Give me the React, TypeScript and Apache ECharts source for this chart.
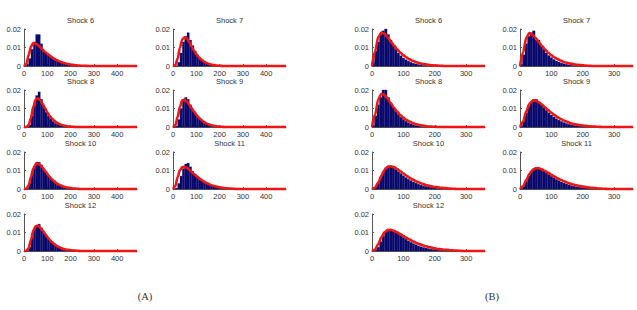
import React, { useEffect, useRef } from "react";
import * as echarts from "echarts";

// Shock numbers shown in each panel (same set in A and B)
const shocks = [6, 7, 8, 9, 10, 11, 12];

// Histogram bin widths and x-axis extents for the two panels
const binWidthA = 10;
const binWidthB = 8;
const xMaxA = 485;
const xMaxB = 360;
// Fitted density curves are sampled every curveStep units from 0
const curveStep = 10;

// ---- Panel A: histogram heights (bins start at 0) ----
const histA6 = [0, 0.001, 0.004, 0.009, 0.013, 0.017, 0.017, 0.012, 0.008, 0.007, 0.006, 0.005, 0.004, 0.0035, 0.003, 0.0025, 0.002, 0.0015, 0.001, 0.0008, 0.0005, 0.0003, 0.0002];
const histA7 = [0, 0, 0.002, 0.007, 0.013, 0.016, 0.018, 0.014, 0.011, 0.008, 0.006, 0.0045, 0.0035, 0.0025, 0.0018, 0.0012, 0.0008, 0.0004, 0.0002];
const histA8 = [0, 0, 0.001, 0.006, 0.012, 0.017, 0.019, 0.015, 0.011, 0.008, 0.006, 0.0045, 0.003, 0.002, 0.0015, 0.001, 0.0006, 0.0003];
const histA9 = [0, 0.0005, 0.004, 0.01, 0.014, 0.016, 0.015, 0.012, 0.0095, 0.0075, 0.0058, 0.0043, 0.0032, 0.0023, 0.0016, 0.001, 0.0006, 0.0003];
const histA10 = [0, 0.0003, 0.003, 0.008, 0.012, 0.0145, 0.0145, 0.013, 0.011, 0.009, 0.0072, 0.0057, 0.0045, 0.0035, 0.0026, 0.0019, 0.0013, 0.0009, 0.0006, 0.0003];
const histA11 = [0, 0.0005, 0.003, 0.007, 0.011, 0.0135, 0.014, 0.012, 0.0095, 0.008, 0.0068, 0.0056, 0.0046, 0.0037, 0.003, 0.0024, 0.0018, 0.0014, 0.001, 0.0007, 0.0005, 0.0003, 0.0002];
const histA12 = [0, 0, 0.002, 0.007, 0.012, 0.014, 0.0145, 0.0125, 0.0105, 0.0085, 0.0068, 0.0053, 0.0041, 0.0031, 0.0023, 0.0017, 0.0012, 0.0008, 0.0005, 0.0003];

// ---- Panel A: fitted densities ----
const fitA6 = [0, 0.001, 0.006, 0.0105, 0.0124, 0.0122, 0.0113, 0.0101, 0.0089, 0.0077, 0.0066, 0.0056, 0.0047, 0.0039, 0.0032, 0.0026, 0.0021, 0.0017, 0.0013, 0.001, 0.0008, 0.0006, 0.0004, 0.0003, 0.0002, 0.00015, 0.0001, 0.00005, 0];
const fitA7 = [0, 0.0005, 0.004, 0.01, 0.0145, 0.0155, 0.0148, 0.0128, 0.0105, 0.0083, 0.0064, 0.0048, 0.0036, 0.0026, 0.0019, 0.0013, 0.0009, 0.0006, 0.0004, 0.0002, 0.0001, 0.00005, 0];
const fitA8 = [0, 0, 0.001, 0.005, 0.011, 0.0148, 0.0155, 0.0145, 0.0125, 0.0102, 0.008, 0.0061, 0.0046, 0.0034, 0.0024, 0.0017, 0.0012, 0.0008, 0.0005, 0.0003, 0.0002, 0.0001, 0];
const fitA9 = [0, 0.001, 0.0055, 0.011, 0.0145, 0.0148, 0.0138, 0.012, 0.0101, 0.0083, 0.0066, 0.0052, 0.004, 0.003, 0.0022, 0.0016, 0.0011, 0.0008, 0.0005, 0.0003, 0.0002, 0.0001, 0];
const fitA10 = [0, 0.0002, 0.002, 0.0065, 0.011, 0.0133, 0.0138, 0.013, 0.0115, 0.0098, 0.0081, 0.0066, 0.0052, 0.0041, 0.0031, 0.0024, 0.0018, 0.0013, 0.0009, 0.0007, 0.0005, 0.0003, 0.0002, 0.0001, 0];
const fitA11 = [0, 0.0015, 0.0065, 0.0102, 0.0118, 0.012, 0.0114, 0.0104, 0.0093, 0.0081, 0.007, 0.006, 0.0051, 0.0042, 0.0035, 0.0029, 0.0023, 0.0019, 0.0015, 0.0012, 0.0009, 0.0007, 0.0005, 0.0004, 0.0003, 0.0002, 0.0001, 0];
const fitA12 = [0, 0, 0.0015, 0.006, 0.011, 0.0134, 0.0136, 0.0126, 0.011, 0.0093, 0.0076, 0.0061, 0.0048, 0.0037, 0.0028, 0.0021, 0.0016, 0.0011, 0.0008, 0.0006, 0.0004, 0.0003, 0.0002, 0.0001, 0];

// ---- Panel B: histogram heights (bins start at 0) ----
const histB6 = [0.002, 0.008, 0.013, 0.017, 0.019, 0.02, 0.017, 0.014, 0.011, 0.009, 0.007, 0.0055, 0.0043, 0.0034, 0.0026, 0.002, 0.0015, 0.0011, 0.0008, 0.0005, 0.0003, 0.0002];
const histB7 = [0.001, 0.006, 0.012, 0.016, 0.018, 0.019, 0.014, 0.014, 0.011, 0.009, 0.007, 0.0056, 0.0045, 0.0035, 0.0027, 0.0021, 0.0016, 0.0012, 0.0009, 0.0006, 0.0004, 0.0002];
const histB8 = [0.001, 0.006, 0.012, 0.016, 0.02, 0.02, 0.016, 0.013, 0.0105, 0.0085, 0.0068, 0.0053, 0.0041, 0.0031, 0.0023, 0.0017, 0.0012, 0.0008, 0.0005, 0.0003];
const histB9 = [0.0005, 0.003, 0.0075, 0.011, 0.0135, 0.015, 0.015, 0.0135, 0.012, 0.0105, 0.009, 0.0077, 0.0065, 0.0054, 0.0045, 0.0037, 0.003, 0.0024, 0.0019, 0.0015, 0.0012, 0.0009, 0.0007, 0.0005, 0.0004, 0.0003];
const histB10 = [0.0002, 0.001, 0.003, 0.006, 0.009, 0.0115, 0.0125, 0.0122, 0.0115, 0.0105, 0.0094, 0.0083, 0.0072, 0.0062, 0.0053, 0.0045, 0.0038, 0.0032, 0.0026, 0.0021, 0.0017, 0.0014, 0.0011, 0.0009, 0.0007, 0.0005, 0.0004, 0.0003];
const histB11 = [0.0003, 0.0015, 0.004, 0.007, 0.0095, 0.011, 0.0115, 0.0112, 0.0106, 0.0097, 0.0088, 0.0078, 0.0069, 0.006, 0.0052, 0.0045, 0.0038, 0.0032, 0.0027, 0.0022, 0.0018, 0.0015, 0.0012, 0.001, 0.0008, 0.0006, 0.0005, 0.0004, 0.0003];
const histB12 = [0, 0.0005, 0.002, 0.005, 0.008, 0.0105, 0.0115, 0.0115, 0.011, 0.0102, 0.0093, 0.0083, 0.0073, 0.0064, 0.0055, 0.0047, 0.004, 0.0034, 0.0028, 0.0023, 0.0019, 0.0016, 0.0013, 0.001, 0.0008, 0.0006, 0.0005, 0.0004, 0.0003, 0.0002];

// ---- Panel B: fitted densities ----
const fitB6 = [0, 0.008, 0.0157, 0.0181, 0.0174, 0.0155, 0.0132, 0.011, 0.009, 0.0073, 0.0058, 0.0046, 0.0036, 0.0028, 0.0021, 0.0016, 0.0012, 0.0009, 0.0006, 0.0004, 0.0003, 0.0002, 0.0001, 0];
const fitB7 = [0, 0.0075, 0.0153, 0.0178, 0.0169, 0.0151, 0.0129, 0.0108, 0.0089, 0.0072, 0.0058, 0.0046, 0.0037, 0.0029, 0.0022, 0.0017, 0.0013, 0.001, 0.0007, 0.0005, 0.0004, 0.0002, 0.0001, 0];
const fitB8 = [0, 0.0068, 0.015, 0.018, 0.0174, 0.0153, 0.0128, 0.0104, 0.0083, 0.0065, 0.005, 0.0038, 0.0029, 0.0021, 0.0015, 0.0011, 0.0008, 0.0005, 0.0003, 0.0002, 0.0001, 0];
const fitB9 = [0, 0.003, 0.0085, 0.0125, 0.0142, 0.0143, 0.0134, 0.0121, 0.0106, 0.0091, 0.0077, 0.0064, 0.0053, 0.0043, 0.0035, 0.0028, 0.0022, 0.0017, 0.0013, 0.001, 0.0008, 0.0006, 0.0004, 0.0003, 0.0002, 0.0001, 0];
const fitB10 = [0, 0.0008, 0.0035, 0.0072, 0.0103, 0.012, 0.0123, 0.0118, 0.0108, 0.0096, 0.0084, 0.0072, 0.0061, 0.0051, 0.0042, 0.0035, 0.0028, 0.0023, 0.0018, 0.0014, 0.0011, 0.0009, 0.0007, 0.0005, 0.0004, 0.0002, 0.0001, 0];
const fitB11 = [0, 0.0015, 0.0048, 0.0081, 0.0103, 0.0112, 0.0112, 0.0106, 0.0097, 0.0087, 0.0077, 0.0067, 0.0058, 0.005, 0.0042, 0.0035, 0.0029, 0.0024, 0.002, 0.0016, 0.0013, 0.001, 0.0008, 0.0006, 0.0005, 0.0003, 0.0002, 0.0001, 0];
const fitB12 = [0, 0.0008, 0.0038, 0.0074, 0.0101, 0.0113, 0.0114, 0.0109, 0.0101, 0.0091, 0.0081, 0.0071, 0.0062, 0.0053, 0.0045, 0.0038, 0.0032, 0.0026, 0.0022, 0.0018, 0.0014, 0.0011, 0.0009, 0.0007, 0.0006, 0.0004, 0.0003, 0.0002, 0.0001, 0];

const histsA = [histA6, histA7, histA8, histA9, histA10, histA11, histA12];
const fitsA = [fitA6, fitA7, fitA8, fitA9, fitA10, fitA11, fitA12];
const histsB = [histB6, histB7, histB8, histB9, histB10, histB11, histB12];
const fitsB = [fitB6, fitB7, fitB8, fitB9, fitB10, fitB11, fitB12];

const yMax = 0.02;
const yStep = 0.01;
const xStep = 100;

const FONT = "'Liberation Sans', Arial, sans-serif";
const BAR_FILL = "#09096a";
const BAR_EDGE = "#16167a";
const FIT_RED = "#f01414";

// subplot layout (pixels)
const plotW = 113;
const plotH = 37;
const rowTops = [29, 90, 152, 214];
const panels = [
  { colLefts: [24, 173], xMax: xMaxA, bin: binWidthA, hists: histsA, fits: fitsA, label: "(A)", labelX: 145 },
  { colLefts: [372, 520], xMax: xMaxB, bin: binWidthB, hists: histsB, fits: fitsB, label: "(B)", labelX: 492 },
];

function buildOption() {
  const grid: any[] = [];
  const xAxis: any[] = [];
  const yAxis: any[] = [];
  const series: any[] = [];
  const title: any[] = [];

  panels.forEach((p) => {
    shocks.forEach((shock, k) => {
      const row = Math.floor(k / 2);
      const col = k % 2;
      const left = p.colLefts[col];
      const top = rowTops[row];
      const gi = grid.length;
      grid.push({ left, top, width: plotW, height: plotH, containLabel: false });

      const axisLine = { show: true, lineStyle: { color: "#555", width: 1 } };
      const axisTick = { show: true, inside: true, length: 2, lineStyle: { color: "#555" } };
      xAxis.push({
        gridIndex: gi,
        type: "value",
        min: 0,
        max: p.xMax,
        interval: xStep,
        axisLine,
        axisTick,
        splitLine: { show: false },
        axisLabel: {
          fontSize: 7.5,
          fontFamily: FONT,
          color: "#333",
          margin: 3,
          showMaxLabel: false,
          formatter: (v: number) => (v % xStep === 0 ? String(v) : ""),
        },
      });
      yAxis.push({
        gridIndex: gi,
        type: "value",
        min: 0,
        max: yMax,
        interval: yStep,
        axisLine,
        axisTick,
        splitLine: { show: false },
        axisLabel: { fontSize: 7.5, fontFamily: FONT, color: "#333", margin: 3 },
      });

      // histogram bars: [bin start, height]
      const bw = p.bin;
      series.push({
        type: "custom",
        xAxisIndex: gi,
        yAxisIndex: gi,
        z: 2,
        data: p.hists[k].map((h, i) => [i * bw, h]),
        renderItem: (params: any, api: any) => {
          const x0 = api.value(0);
          const h = api.value(1);
          const a = api.coord([x0, h]);
          const b = api.coord([x0 + bw, 0]);
          return {
            type: "rect",
            shape: { x: a[0], y: a[1], width: b[0] - a[0], height: b[1] - a[1] },
            style: { fill: BAR_FILL, stroke: BAR_EDGE, lineWidth: 0.3 },
          };
        },
      });

      // fitted density, continued flat to the axis end
      const fit = p.fits[k];
      const pts = fit.map((v, i) => [i * curveStep, v]);
      pts.push([p.xMax, 0]);
      series.push({
        type: "line",
        xAxisIndex: gi,
        yAxisIndex: gi,
        z: 3,
        data: pts,
        showSymbol: false,
        smooth: 0.3,
        smoothMonotone: "x",
        clip: false,
        lineStyle: { color: FIT_RED, width: 2.6 },
      });

      title.push({
        text: "Shock " + shock,
        left: left + plotW / 2,
        top: top - 13,
        textAlign: "center",
        padding: 0,
        textStyle: { fontSize: 7.5, fontWeight: "normal", fontFamily: FONT, color: "#333" },
      });
    });

    title.push({
      text: p.label,
      left: p.labelX,
      top: 291,
      textAlign: "center",
      padding: 0,
      textStyle: { fontSize: 10.5, fontWeight: "normal", fontFamily: "'Liberation Serif', 'DejaVu Serif', serif", color: "#333" },
    });
  });

  return { animation: false, backgroundColor: "#ffffff", title, grid, xAxis, yAxis, series };
}

export default function App() {
  const ref = useRef<HTMLDivElement>(null);
  useEffect(() => {
    if (!ref.current) return;
    const chart = echarts.init(ref.current, null, { renderer: "svg" });
    chart.setOption(buildOption() as any);
    return () => chart.dispose();
  }, []);
  return (
    <div
      ref={ref}
      style={{ position: "fixed", left: 0, top: 0, width: 637, height: 310, background: "#fff" }}
    />
  );
}
